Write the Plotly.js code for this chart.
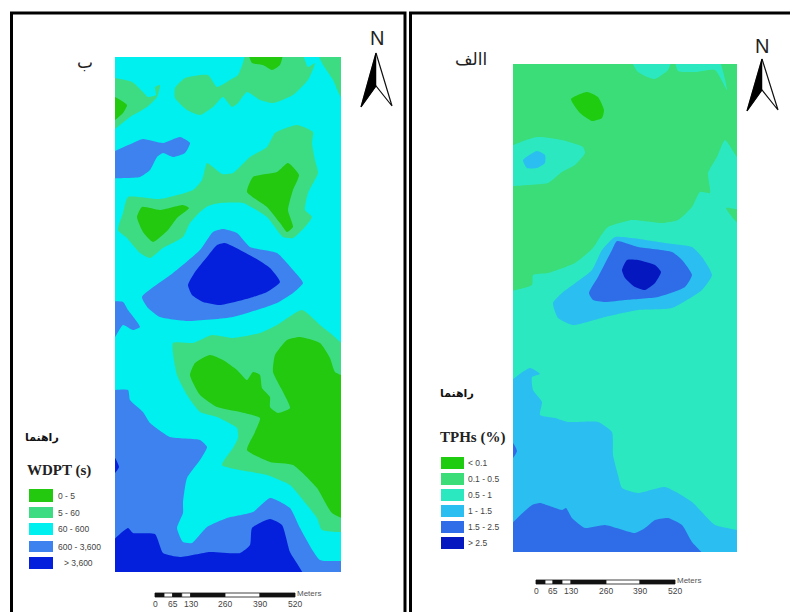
<!DOCTYPE html>
<html><head><meta charset="utf-8">
<script src="https://cdn.plot.ly/plotly-3.0.1.min.js"></script>
<style>html,body{margin:0;padding:0;background:#fff}#c{width:790px;height:612px}</style>
</head><body><div id="c"></div>
<script>
// Class colours
const wdptColors=['#22C90F','#3EDC82','#00EFEF','#3D82EE','#0520DC'];
const tphColors=['#20CC10','#3ADD78','#2CE8C0','#2BBEF0','#2F6DE8','#0518C0'];
const wdptLabels=['0 - 5','5 - 60','60 - 600','600 - 3,600','> 3,600'];
const tphLabels=['< 0.1','0.1 - 0.5','0.5 - 1','1 - 1.5','1.5 - 2.5','> 2.5'];
const scaleLabels=['0','65','130','260','390','520'];

// Map extents
const wdptBox=[115,341,57,572];
const tphBox=[513,737,64,552];

// WDPT zones
const wTop=[[247,50],[300,50],[308,67],[315,63],[308,80],[293,95],[273,103],[260,100],[247,92],[238,103],[232,107],[223,97],[213,107],[200,115],[187,110],[175,98],[175,88],[185,78],[208,75],[217,87],[230,80],[238,75],[243,63]];
const wCorner=[[317,50],[350,50],[350,100],[341,97],[333,80],[322,63]];
const wTopDark=[[248,50],[283,50],[280,65],[272,70],[263,65],[252,63]];
const wLeft=[[105,78],[132,82],[143,92],[148,97],[156,95],[155,87],[160,85],[157,97],[147,107],[130,117],[105,135]];
const wLeftDark=[[105,93],[115,97],[127,105],[123,113],[115,120],[105,125]];
const wBlueBlob=[[105,157],[133,143],[143,139],[163,143],[180,137],[190,143],[185,153],[173,157],[163,153],[157,157],[150,170],[140,177],[127,178],[105,177]];
const wMid=[[128,197],[160,199],[193,190],[202,180],[207,163],[213,167],[222,174],[233,173],[250,157],[267,147],[275,133],[297,125],[313,132],[312,143],[315,160],[318,173],[308,193],[305,210],[312,217],[305,227],[293,238],[283,237],[267,217],[243,203],[220,203],[208,206],[200,212],[190,223],[183,237],[163,248],[150,258],[140,253],[127,238],[118,230],[123,213]];
const wMidDarkR=[[247,192],[253,177],[277,172],[288,163],[299,175],[293,190],[288,210],[293,227],[287,232],[280,223],[267,207]];
const wMidDarkL=[[137,217],[142,207],[160,210],[183,205],[189,208],[177,218],[168,230],[153,242],[143,232]];
const wCore=[[142,297],[173,273],[200,250],[213,232],[223,229],[237,233],[250,247],[277,253],[293,270],[303,283],[293,293],[277,303],[233,317],[187,321],[160,317],[148,308]];
const wCoreDark=[[188,285],[195,272],[207,257],[217,245],[225,243],[253,257],[270,268],[280,282],[267,292],[250,298],[220,305],[203,302],[192,295]];
const wNotch=[[105,303],[123,302],[128,310],[140,327],[133,330],[123,325],[115,337],[105,345]];
const wSouth=[[173,343],[193,343],[212,335],[233,338],[260,333],[277,325],[302,310],[320,325],[345,348],[350,530],[322,530],[317,518],[307,505],[290,485],[267,475],[222,465],[233,448],[238,438],[237,428],[217,417],[200,412],[187,395],[177,375]];
const wSouthDark=[[190,375],[195,363],[210,355],[223,360],[237,370],[247,380],[253,372],[260,375],[262,388],[270,397],[270,407],[278,413],[290,408],[283,392],[273,372],[275,355],[287,340],[300,337],[320,343],[330,358],[335,372],[350,380],[350,520],[332,513],[317,488],[293,465],[270,462],[247,450],[255,432],[260,418],[240,412],[217,407],[200,395]];
const wBottom=[[105,393],[128,390],[130,400],[143,412],[150,423],[170,437],[200,440],[207,447],[200,460],[187,478],[183,502],[183,513],[177,528],[183,542],[192,543],[207,527],[227,518],[253,512],[270,498],[290,508],[300,528],[320,560],[350,562],[350,580],[105,580]];
const wBottomDark=[[105,550],[128,528],[133,533],[155,534],[163,553],[180,557],[210,552],[240,553],[250,545],[252,528],[270,519],[282,525],[290,552],[305,580],[105,580]];
const wSpot=[[110,456],[115,458],[119,467],[115,473],[110,475]];

// TPH zones
const tGreen=[[505,56],[745,56],[745,165],[737,157],[725,140],[717,157],[708,173],[710,193],[700,192],[692,207],[678,220],[662,223],[632,220],[608,227],[600,237],[593,248],[575,263],[548,273],[533,275],[532,285],[505,290]];
const tPatchA=[[630,56],[672,56],[668,70],[655,79],[647,77],[637,71]];
const tPatchB=[[675,56],[717,56],[727,90],[715,70],[695,72],[678,71]];
const tPatchC=[[726,208],[745,212],[745,230],[732,217]];
const tDot=[[571,99],[587,92],[598,97],[604,110],[602,118],[592,121],[580,113]];
const tWest=[[505,150],[537,137],[562,140],[583,147],[585,153],[575,165],[562,172],[548,183],[528,185],[505,185]];
const tWestCore=[[523,160],[537,151],[545,155],[545,163],[537,168],[527,168]];
const tHalo=[[553,303],[562,293],[592,270],[602,250],[615,237],[632,238],[665,243],[692,247],[702,257],[712,275],[702,290],[672,308],[638,310],[605,317],[573,325],[558,318]];
const tCore=[[589,293],[598,277],[612,250],[617,241],[638,247],[672,252],[682,260],[692,275],[685,287],[658,297],[625,300],[605,302],[593,300]];
const tCoreDark=[[622,270],[627,260],[638,260],[655,265],[661,272],[655,283],[645,290],[635,287],[625,278]];
const tSouth=[[505,388],[530,368],[540,374],[532,377],[533,390],[542,402],[540,415],[555,418],[568,422],[598,422],[612,432],[613,455],[618,475],[622,488],[638,493],[665,487],[692,502],[715,525],[745,533],[745,560],[505,560]];
const tBottom=[[505,532],[532,505],[540,503],[562,510],[566,508],[572,518],[585,528],[605,525],[635,533],[645,528],[655,520],[668,518],[682,525],[692,542],[707,560],[505,560]];
const tSpot=[[508,441],[513,443],[517,451],[513,458],[508,460]];

const wdptZones=[[wTop,1],[wCorner,1],[wTopDark,0],[wLeft,1],[wLeftDark,0],[wBlueBlob,3],[wMid,1],[wMidDarkR,0],[wMidDarkL,0],[wCore,3],[wCoreDark,4],[wNotch,3],[wSouth,1],[wSouthDark,0],[wBottom,3],[wBottomDark,4],[wSpot,4]];
const tphZones=[[tGreen,1],[tPatchA,2],[tPatchB,2],[tPatchC,1],[tDot,0],[tWest,2],[tWestCore,3],[tHalo,3],[tCore,4],[tCoreDark,5],[tSouth,3],[tBottom,4],[tSpot,4]];

// Page furniture positions
const wdptRows=[[489,502],[507,518],[523,535],[541,552],[557,569]];
const tphRows=[[457,469],[473,485],[489,501],[505,517],[521,533],[537,549]];
const wdptBar=[155,164,172.7,181.7,190.7,225,260,295];
const tphBar=[536,545,553,562,571,606,640,675];
const wArrow={apex:[376,53],left:[361,107],notch:[376,86],right:[392,106]};
const tArrow={apex:[762,59],left:[747,111],notch:[762,90],right:[778,110]};

const W=790,H=612,traces=[],shapes=[],ann=[];
function poly(pts,color,xa,ya,spline){
  traces.push({type:'scatter',mode:'lines',xaxis:xa,yaxis:ya,hoverinfo:'skip',showlegend:false,
    x:pts.map(p=>p[0]).concat(pts[0][0]),y:pts.map(p=>p[1]).concat(pts[0][1]),
    fill:'toself',fillcolor:color,line:{width:0,color:color,shape:spline?'spline':'linear',smoothing:0.5}});
}
function rect(a,b,c,d,fill,lineCol,lw){
  shapes.push({type:'rect',xref:'x3',yref:'y3',x0:a,x1:b,y0:c,y1:d,fillcolor:fill,layer:'above',line:{width:lw||0,color:lineCol||fill}});
}
function label(x,y,text,size,color,family,anchor,weight){
  ann.push({xref:'x3',yref:'y3',x:x,y:y,text:text,showarrow:false,xanchor:anchor||'left',yanchor:'middle',
    font:{size:size,color:color,family:family,weight:weight||400},borderpad:0});
}
// map backgrounds and zones
function bg(box,color,xa,ya){poly([[box[0]-5,box[2]-5],[box[1]+5,box[2]-5],[box[1]+5,box[3]+5],[box[0]-5,box[3]+5]],color,xa,ya,false);}
bg(wdptBox,wdptColors[2],'x','y');
wdptZones.forEach(z=>poly(z[0],wdptColors[z[1]],'x','y',true));
bg(tphBox,tphColors[2],'x2','y2');
tphZones.forEach(z=>poly(z[0],tphColors[z[1]],'x2','y2',true));
// frames
rect(11.5,405,13,640,'rgba(0,0,0,0)','#000',3);
rect(410.5,800,13,640,'rgba(0,0,0,0)','#000',3);
// legends
const SANS='Liberation Sans, Arial, sans-serif',SERIF='Liberation Serif, Times New Roman, serif',AR='DejaVu Sans, sans-serif';
wdptRows.forEach((r,i)=>{rect(29,53,r[0],r[1],wdptColors[i]);
  label(i===4?63:57,(r[0]+r[1])/2,wdptLabels[i],8.5,'#444',SANS);});
tphRows.forEach((r,i)=>{rect(441,464,r[0],r[1],tphColors[i]);
  label(467,(r[0]+r[1])/2,tphLabels[i],8.5,'#444',SANS);});
label(26,470,'WDPT (s)',15,'#222',SERIF,'left',700);
label(439,437,'TPHs (%)',15,'#222',SERIF,'left',700);
label(42,437,'راهنما',11,'#111',AR,'center',700);
label(457,393,'راهنما',11,'#111',AR,'center',700);
label(85,62,'ب',17,'#222',AR,'center');
label(471,59,'االف',17,'#222',AR,'center');
// scale bars
function bar(xs,y0,y1,ty){
  for(let i=0;i<xs.length-1;i++){rect(xs[i],xs[i+1],y0,y1,i%2?'#fff':'#111','#111',0.8);}
  const tickIdx=[0,2,4,5,6,7];
  tickIdx.forEach((k,i)=>label(xs[k],ty,scaleLabels[i],8.5,'#444',SANS,'center'));
  label(xs[7]+1,y0,'Meters',8,'#555',SANS);
}
bar(wdptBar,593,597,604);
bar(tphBar,580,584,591);
// north arrows
function arrow(a){
  const o=[a.apex,a.right,a.notch,a.left,a.apex];
  traces.push({type:'scatter',mode:'lines',xaxis:'x3',yaxis:'y3',hoverinfo:'skip',showlegend:false,
    x:o.map(p=>p[0]),y:o.map(p=>p[1]),fill:'toself',fillcolor:'#fff',line:{color:'#111',width:1.2}});
  const b=[a.apex,a.notch,a.left,a.apex];
  traces.push({type:'scatter',mode:'lines',xaxis:'x3',yaxis:'y3',hoverinfo:'skip',showlegend:false,
    x:b.map(p=>p[0]),y:b.map(p=>p[1]),fill:'toself',fillcolor:'#000',line:{color:'#000',width:0.5}});
}
arrow(wArrow);arrow(tArrow);
label(377,38,'N',20,'#222',SANS,'center');
label(762,46,'N',20,'#222',SANS,'center');

function ax(domain,range,anchor){return {domain:domain,range:range,visible:false,fixedrange:true,anchor:anchor,showgrid:false,zeroline:false};}
const layout={width:W,height:H,margin:{l:0,r:0,t:0,b:0},paper_bgcolor:'#fff',plot_bgcolor:'rgba(0,0,0,0)',showlegend:false,
  xaxis:ax([wdptBox[0]/W,wdptBox[1]/W],[wdptBox[0],wdptBox[1]],'y'),
  yaxis:ax([1-wdptBox[3]/H,1-wdptBox[2]/H],[wdptBox[3],wdptBox[2]],'x'),
  xaxis2:ax([tphBox[0]/W,tphBox[1]/W],[tphBox[0],tphBox[1]],'y2'),
  yaxis2:ax([1-tphBox[3]/H,1-tphBox[2]/H],[tphBox[3],tphBox[2]],'x2'),
  xaxis3:ax([0,1],[0,W],'y3'),
  yaxis3:ax([0,1],[H,0],'x3'),
  shapes:shapes,annotations:ann};
Plotly.newPlot('c',traces,layout,{displayModeBar:false,staticPlot:true});
</script></body></html>
